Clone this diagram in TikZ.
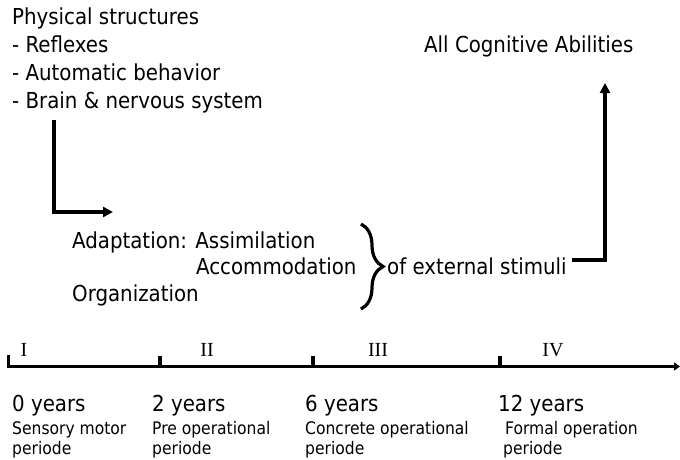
\documentclass[tikz,border=0pt]{standalone}
\usepackage{fontspec}
\setmainfont{DejaVu Sans Condensed}
\newfontfamily\romanfont{Liberation Serif}
\usetikzlibrary{arrows.meta,decorations.pathreplacing}
\begin{document}
\begin{tikzpicture}[x=1pt,y=-1pt,
  big/.style={anchor=base west,inner sep=0pt,font=\fontsize{22}{26}\selectfont},
  small/.style={anchor=base west,inner sep=0pt,font=\fontsize{17.3}{20}\selectfont},
  numeral/.style={anchor=base,inner sep=0pt,font=\romanfont\fontsize{20}{22}\selectfont},
  conn/.style={line width=3.6pt},
  tipped/.style={-{Triangle[length=10pt,width=10pt]}},
  axis/.style={line width=3.4pt,-{Triangle[length=6pt,width=8pt]}},
  tick/.style={line width=4pt},
]
\useasboundingbox (0,0) rectangle (680,460);

% top-left list
\node[big] (phys)  at (12,25)  {Physical structures};
\node[big] (refl)  at (12,53)  {- Reflexes};
\node[big] (auto)  at (12,80.5){- Automatic behavior};
\node[big] (brain) at (12,108) {- Brain \& nervous system};

% top-right
\node[big] (allcog) at (424,53) {All Cognitive Abilities};

% middle block
\node[big] (adapt) at (72,248)   {Adaptation: Assimilation};
\node[big] (accom) at (196,274.5){Accommodation};
\node[big] (organ) at (72,301)   {Organization};
\node[big] (stim)  at (387,274.5){of external stimuli};

% brace
\coordinate (brTop) at (361,224);
\coordinate (brBot) at (361,309);
\draw[line width=3.2pt,decorate,decoration={brace,amplitude=22pt}] (brTop) -- (brBot);

% L arrow
\coordinate (lTop) at (54,120);
\coordinate (lCorner) at (54,212);
\coordinate (lEnd) at (113,212);
\draw[conn,tipped] (lTop) -- (lCorner) -- (lEnd);

% up arrow
\coordinate (uStart) at (572,260);
\coordinate (uCorner) at (605,260);
\coordinate (uEnd) at (605,83);
\draw[conn,tipped] (uStart) -- (uCorner) -- (uEnd);

% timeline
\coordinate (t0) at (7,366.5);
\coordinate (tEnd) at (680,366.5);
\draw[axis] (t0) -- (tEnd);
\coordinate (k0) at (8.5,355);
\coordinate (k0b) at (8.5,366.5);
\draw[line width=2.6pt] (k0) -- (k0b);
\coordinate (k1) at (160,355.5);  \coordinate (k1b) at (160,366.5);
\coordinate (k2) at (312.5,355.5);\coordinate (k2b) at (312.5,366.5);
\coordinate (k3) at (500,355.5);  \coordinate (k3b) at (500,366.5);
\draw[tick] (k1) -- (k1b);
\draw[tick] (k2) -- (k2b);
\draw[tick] (k3) -- (k3b);

\node[numeral] (n1) at (24,356)  {I};
\node[numeral] (n2) at (207,356) {II};
\node[numeral] (n3) at (378,356) {III};
\node[numeral] (n4) at (553,356) {IV};

% stage labels
\node[big]   (y0) at (12,411)   {0 years};
\node[small] (s0) at (12,434.5) {Sensory motor};
\node[small] (p0) at (12,454.5) {periode};
\node[big]   (y2) at (152,411)  {2 years};
\node[small] (s2) at (152,434.5){Pre operational};
\node[small] (p2) at (152,454.5){periode};
\node[big]   (y6) at (305,411)  {6 years};
\node[small] (s6) at (305,434.5){Concrete operational};
\node[small] (p6) at (305,454.5){periode};
\node[big]   (y12) at (498,411) {12 years};
\node[small] (s12) at (505,434.5){Formal operation};
\node[small] (p12) at (503,454.5){periode};
\end{tikzpicture}
\end{document}
